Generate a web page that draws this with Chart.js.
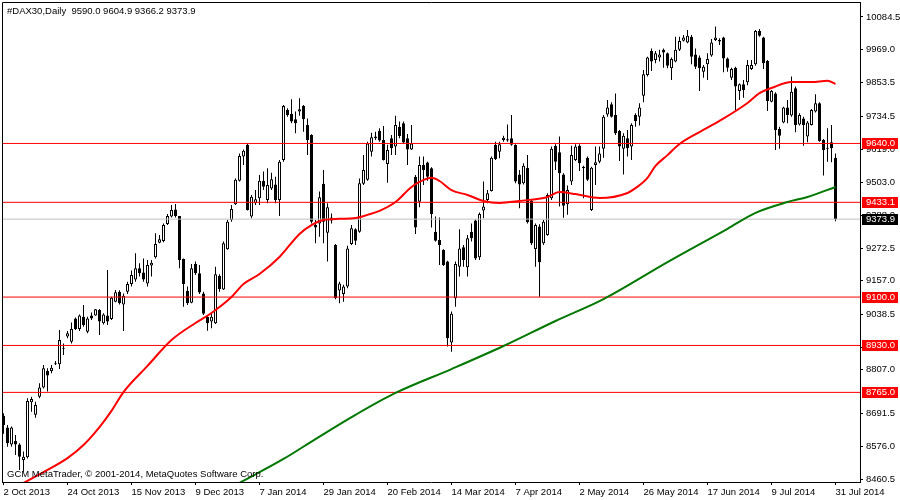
<!DOCTYPE html>
<html>
<head>
<meta charset="utf-8">
<script src="https://cdn.jsdelivr.net/npm/chart.js@4.4.1/dist/chart.umd.min.js"></script>
<style>
  html, body { margin: 0; padding: 0; background: #fff; }
  canvas { display: block; }
</style>
</head>
<body>
<canvas id="dax" width="900" height="500"></canvas>
<script>
// daily bars, 2 Oct 2013 .. 31 Jul 2014 (one entry per bar)
const opens = [
  8683, 8642, 8582, 8594, 8582, 8527, 8537, 8730, 8686, 8750, 8782,
  8840, 8840, 8867, 8864, 8922, 8961, 8943, 9025, 8988, 9031,
  8978, 9035, 9035, 9055, 9008, 9035, 9023, 9084, 9119, 9074,
  9119, 9146, 9162, 9201, 9186, 9148, 9211, 9240, 9291, 9297,
  9357, 9383, 9408, 9385, 9234, 9121, 9080, 9216, 9184, 9113,
  9031, 9014, 9008, 9175, 9127, 9268, 9371, 9426, 9509, 9594,
  9635, 9383, 9430, 9447, 9509, 9441, 9482, 9496, 9441, 9582,
  9758, 9744, 9725, 9752, 9772, 9705, 9670, 9353, 9359, 9498,
  9326, 9380, 9283, 9123, 9111, 9137, 9287, 9338, 9330, 9498,
  9512, 9611, 9658, 9685, 9652, 9568, 9658, 9629, 9699, 9711,
  9658, 9619, 9523, 9435, 9564, 9573, 9553, 9330, 9301, 9266,
  9225, 8940, 9096, 9207, 9275, 9205, 9330, 9369, 9240, 9404,
  9441, 9473, 9635, 9611, 9652, 9650, 9658, 9635, 9531, 9500,
  9555, 9438, 9269, 9348, 9289, 9318, 9447, 9632, 9609, 9531,
  9426, 9506, 9582, 9632, 9558, 9590, 9406, 9564, 9576, 9621,
  9742, 9778, 9740, 9684, 9621, 9658, 9629, 9740, 9734, 9808,
  9881, 9965, 9933, 9942, 9969, 9957, 9904, 9928, 9969, 10001,
  9995, 10015, 9953, 9942, 9892, 9918, 9949, 10004, 10004, 10012,
  9939, 9871, 9906, 9824, 9848, 9855, 9902, 9918, 10035, 10012,
  9930, 9787, 9816, 9691, 9714, 9766, 9738, 9834, 9707, 9728,
  9664, 9705, 9752, 9781, 9652, 9625, 9644, 9590.0
];
const highs = [
  8692, 8650, 8645, 8615, 8586, 8557, 8744, 8750, 8732, 8797, 8861,
  8850, 8861, 8875, 8984, 8937, 8981, 9011, 9028, 9039, 9072,
  9031, 9046, 9058, 9058, 9043, 9195, 9101, 9125, 9124, 9113,
  9154, 9193, 9254, 9219, 9236, 9230, 9230, 9324, 9318, 9359,
  9392, 9424, 9427, 9385, 9236, 9137, 9216, 9225, 9213, 9119,
  9037, 9043, 9207, 9180, 9295, 9371, 9424, 9517, 9605, 9619,
  9640, 9459, 9476, 9529, 9541, 9553, 9537, 9523, 9582, 9775,
  9764, 9795, 9752, 9799, 9775, 9728, 9672, 9371, 9471, 9547,
  9430, 9394, 9287, 9154, 9143, 9280, 9353, 9342, 9517, 9599,
  9646, 9678, 9681, 9693, 9701, 9635, 9670, 9737, 9717, 9717,
  9673, 9705, 9529, 9594, 9594, 9576, 9556, 9383, 9380, 9268,
  9228, 9049, 9225, 9338, 9283, 9318, 9359, 9373, 9397, 9506,
  9476, 9594, 9646, 9646, 9667, 9707, 9740, 9637, 9547, 9570,
  9599, 9441, 9359, 9356, 9371, 9465, 9629, 9637, 9664, 9535,
  9492, 9632, 9637, 9637, 9562, 9594, 9558, 9629, 9629, 9740,
  9793, 9785, 9816, 9687, 9676, 9687, 9711, 9746, 9781, 9898,
  9945, 9974, 9965, 9969, 9974, 9960, 9942, 10015, 10015, 10021,
  10039, 10021, 9974, 9949, 9916, 9957, 10007, 10051, 10010, 10015,
  9942, 9906, 9910, 9851, 9863, 9933, 9933, 10039, 10042, 10015,
  9933, 9828, 9820, 9699, 9769, 9793, 9875, 9840, 9746, 9734,
  9719, 9761, 9813, 9785, 9656, 9693, 9705, 9604.9
];
const lows = [
  8620, 8574, 8574, 8545, 8492, 8486, 8533, 8697, 8676, 8744, 8779,
  8768, 8832, 8861, 8847, 8896, 8955, 8937, 8984, 8981, 8996,
  8973, 9019, 9034, 8967, 9004, 9002, 9019, 9082, 9074, 8981,
  9111, 9137, 9154, 9172, 9154, 9137, 9172, 9236, 9289, 9293,
  9353, 9380, 9380, 9201, 9066, 9072, 9078, 9178, 9111, 9037,
  8982, 8990, 9005, 9119, 9125, 9266, 9365, 9424, 9506, 9564,
  9404, 9377, 9424, 9424, 9476, 9430, 9476, 9430, 9385, 9576,
  9734, 9711, 9676, 9737, 9681, 9599, 9359, 9289, 9312, 9289,
  9225, 9359, 9092, 9078, 9084, 9131, 9283, 9283, 9326, 9494,
  9509, 9594, 9652, 9646, 9580, 9502, 9599, 9599, 9658, 9638,
  9564, 9617, 9322, 9416, 9494, 9509, 9345, 9295, 9213, 9209,
  8926, 8908, 9066, 9172, 9207, 9172, 9295, 9230, 9230, 9377,
  9430, 9471, 9582, 9588, 9646, 9646, 9632, 9500, 9412, 9496,
  9359, 9283, 9207, 9101, 9283, 9316, 9441, 9547, 9418, 9379,
  9389, 9494, 9578, 9543, 9447, 9508, 9403, 9494, 9570, 9590,
  9734, 9731, 9670, 9578, 9531, 9594, 9582, 9699, 9703, 9785,
  9875, 9895, 9922, 9928, 9906, 9904, 9863, 9925, 9965, 9998,
  9992, 9918, 9902, 9824, 9871, 9863, 9945, 10000, 9986, 9890,
  9892, 9863, 9758, 9793, 9801, 9845, 9898, 9913, 10015, 9902,
  9754, 9785, 9617, 9621, 9711, 9711, 9734, 9679, 9703, 9632,
  9644, 9703, 9749, 9646, 9527, 9576, 9574, 9366.2
];
const closes = [
  8650, 8586, 8642, 8582, 8539, 8539, 8735, 8742, 8721, 8782, 8850,
  8824, 8852, 8864, 8949, 8918, 8973, 8988, 8988, 9035, 9002,
  9025, 9025, 9057, 9014, 9039, 9014, 9098, 9117, 9078, 9105,
  9146, 9178, 9201, 9184, 9162, 9213, 9221, 9287, 9303, 9353,
  9385, 9406, 9385, 9230, 9146, 9078, 9201, 9184, 9116, 9041,
  9008, 9031, 9180, 9128, 9289, 9365, 9410, 9512, 9596, 9614,
  9406, 9453, 9444, 9509, 9488, 9494, 9514, 9441, 9576, 9772,
  9740, 9717, 9711, 9760, 9725, 9652, 9365, 9345, 9451, 9365,
  9416, 9369, 9096, 9148, 9137, 9271, 9342, 9298, 9500, 9547,
  9640, 9662, 9664, 9650, 9582, 9617, 9623, 9705, 9666, 9643,
  9619, 9640, 9345, 9564, 9547, 9523, 9392, 9298, 9283, 9213,
  8955, 9041, 9216, 9271, 9230, 9307, 9307, 9236, 9392, 9418,
  9465, 9590, 9585, 9637, 9660, 9655, 9635, 9506, 9496, 9562,
  9363, 9289, 9353, 9222, 9365, 9459, 9621, 9576, 9535, 9421,
  9476, 9599, 9629, 9570, 9553, 9512, 9555, 9574, 9605, 9734,
  9766, 9734, 9676, 9629, 9667, 9623, 9705, 9719, 9766, 9883,
  9942, 9928, 9957, 9953, 9960, 9913, 9937, 9969, 10000, 10012,
  10019, 9945, 9910, 9904, 9910, 9937, 9995, 10012, 9998, 9939,
  9906, 9902, 9840, 9848, 9828, 9916, 9916, 10035, 10019, 9922,
  9789, 9824, 9687, 9667, 9766, 9740, 9822, 9705, 9740, 9705,
  9714, 9758, 9781, 9649, 9617, 9621, 9623, 9373.9
];

// moving averages (bar index -> value)
const redMaIdx = [5, 10, 16, 20, 24, 27, 30, 36, 42, 48, 52, 57, 60, 64, 69, 74, 77, 80, 84, 88,
  91, 94, 98, 102, 104, 107, 109, 112, 116, 120, 124, 129, 136, 139, 143, 149, 156, 158, 161, 163,
  166, 169, 174, 179, 186, 189, 192, 197, 202, 206, 208];
const redMaVal = [8447, 8485, 8534, 8580, 8643, 8700, 8766, 8858, 8949, 9009, 9044, 9100, 9146, 9181, 9241, 9322, 9353, 9371, 9375, 9378,
  9389, 9403, 9434, 9487, 9505, 9519, 9508, 9476, 9459, 9438, 9431, 9438, 9452, 9469, 9462, 9448, 9466, 9483, 9519, 9561,
  9599, 9638, 9680, 9719, 9782, 9817, 9835, 9856, 9856, 9860, 9849];
const greenMaIdx = [59, 70, 78, 88, 98, 112, 125, 138, 150, 166, 181, 188, 196, 201, 208];
const greenMaVal = [8447, 8531, 8601, 8686, 8763, 8847, 8928, 9016, 9093, 9223, 9340, 9396, 9434, 9452, 9487];

// horizontal levels and the bid line
const levelLines = [9640.0, 9433.1, 9100.0, 8930.0, 8765.0];
const bidPrice = 9373.9;

// axis labels
const dateTickIdx = [0, 16, 32, 48, 64, 80, 96, 112, 128, 144, 160, 176, 192, 208];
const dateTickText = ['2 Oct 2013', '24 Oct 2013', '15 Nov 2013', '9 Dec 2013', '7 Jan 2014', '29 Jan 2014',
  '20 Feb 2014', '14 Mar 2014', '7 Apr 2014', '2 May 2014', '26 May 2014', '17 Jun 2014', '9 Jul 2014', '31 Jul 2014'];
const priceTickPos = [10084.5, 9969.0, 9853.5, 9734.5, 9619.0, 9503.0, 9388.0, 9272.5, 9157.0, 9038.5, 8922.5, 8845.0, 8691.5, 8576.0, 8460.5];
const priceTickText = ['10084.5', '9969.0', '9853.5', '9734.5', '9619.0', '9503.0', '9388.0', '9272.5', '9157.0', '9038.5', '8922.5', '8807.0', '8691.5', '8576.0', '8460.5'];

const X_MIN = -0.375, X_MAX = 214.125;
const Y_MIN = 8450.0, Y_MAX = 10137.2;
const FONT = '"Liberation Sans", Arial, sans-serif';

Chart.defaults.font.family = FONT;
Chart.defaults.font.size = 9.5;
Chart.defaults.color = '#000';

const last = closes.length - 1;
const titleText = '#DAX30,Daily  ' + [opens[last], highs[last], lows[last], closes[last]].map(v => v.toFixed(1)).join(' ');

// wick = low..high, body = open..close
const wicks = lows.map((l, i) => ({ x: i, y: [l, highs[i]] }));
const bodies = opens.map((o, i) => ({ x: i, y: [Math.min(o, closes[i]), Math.max(o, closes[i])] }));
const bodyFill = opens.map((o, i) => closes[i] >= o ? '#ffffff' : '#000000');

const levelSets = levelLines.map(v => ({
  type: 'line',
  data: [{ x: X_MIN, y: v }, { x: X_MAX, y: v }],
  borderColor: '#ff0000', borderWidth: 1, pointRadius: 0, order: 1
}));

// frame, price tags and texts drawn on top
const mtOverlay = {
  id: 'mtOverlay',
  afterDraw(chart) {
    const { ctx, chartArea: a } = chart;
    const y = chart.scales.y;
    ctx.save();
    ctx.strokeStyle = '#000';
    ctx.lineWidth = 1;
    ctx.beginPath();
    ctx.moveTo(a.left + 0.5, a.bottom);
    ctx.lineTo(a.left + 0.5, a.top + 0.5);
    ctx.lineTo(a.right, a.top + 0.5);
    ctx.stroke();

    ctx.font = '9.5px ' + FONT;
    ctx.textBaseline = 'middle';
    ctx.textAlign = 'left';
    const tag = (v, bg) => {
      const py = Math.round(y.getPixelForValue(v));
      ctx.fillStyle = bg;
      ctx.fillRect(a.right + 2, py - 5, 36, 11);
      ctx.fillStyle = '#fff';
      ctx.fillText(v.toFixed(1), a.right + 6, py + 0.5);
    };
    levelLines.forEach(v => tag(v, '#ff0000'));
    tag(bidPrice, '#000000');

    ctx.fillStyle = '#000';
    ctx.fillText(titleText, 7, 11);
    ctx.fillText('GCM MetaTrader, \u00a9 2001-2014, MetaQuotes Software Corp.', 7, 474.5);
    ctx.restore();
  }
};

new Chart(document.getElementById('dax'), {
  type: 'bar',
  data: {
    datasets: [
      { type: 'line', data: redMaIdx.map((x, i) => ({ x, y: redMaVal[i] })), borderColor: '#ff0000', borderWidth: 2,
        pointRadius: 0, cubicInterpolationMode: 'monotone', order: 0 },
      { type: 'line', data: greenMaIdx.map((x, i) => ({ x, y: greenMaVal[i] })), borderColor: '#007800', borderWidth: 2,
        pointRadius: 0, cubicInterpolationMode: 'monotone', order: 0 },
      ...levelSets,
      { type: 'line', data: [{ x: X_MIN, y: bidPrice }, { x: X_MAX, y: bidPrice }], borderColor: '#c0c0c0', borderWidth: 1,
        pointRadius: 0, order: 1 },
      { data: bodies, backgroundColor: bodyFill, borderColor: '#000', borderWidth: 1, borderSkipped: false,
        barThickness: 3, inflateAmount: 0, minBarLength: 1, grouped: false, order: 2 },
      { data: wicks, backgroundColor: '#000', borderWidth: 0, barThickness: 1, inflateAmount: 0,
        grouped: false, order: 3 }
    ]
  },
  options: {
    responsive: false,
    animation: false,
    devicePixelRatio: 1,
    layout: { padding: { left: 2, top: 2, right: 0, bottom: 0 } },
    plugins: { legend: { display: false }, tooltip: { enabled: false } },
    scales: {
      x: {
        type: 'linear', min: X_MIN, max: X_MAX, bounds: 'data', offset: false,
        grid: { drawOnChartArea: false, drawTicks: true, tickLength: 3, color: '#000', offset: false },
        border: { display: true, color: '#000', width: 1 },
        ticks: { autoSkip: false, maxRotation: 0, minRotation: 0, align: 'start', padding: 2,
          callback: (v, i) => dateTickText[i] },
        afterBuildTicks: s => { s.ticks = dateTickIdx.map(v => ({ value: v })); },
        afterFit: s => { s.height = 18; s.paddingLeft = 0; s.paddingRight = 0; }
      },
      y: {
        type: 'linear', position: 'right', min: Y_MIN, max: Y_MAX, bounds: 'data', beginAtZero: false,
        grid: { drawOnChartArea: false, drawTicks: true, tickLength: 3, color: '#000' },
        border: { display: true, color: '#000', width: 1 },
        ticks: { autoSkip: false, padding: 3, callback: (v, i) => priceTickText[i] },
        afterBuildTicks: s => { s.ticks = priceTickPos.map(v => ({ value: v })); },
        afterFit: s => { s.width = 40; s.paddingTop = 0; s.paddingBottom = 0; }
      }
    }
  },
  plugins: [mtOverlay]
});
</script>
</body>
</html>
